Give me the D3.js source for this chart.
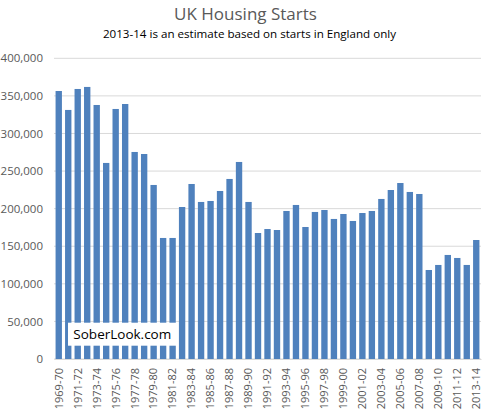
<!DOCTYPE html>
<html><head><meta charset="utf-8">
<script src="https://cdn.jsdelivr.net/npm/d3@7"></script>
<style>body{margin:0;background:#fff}svg{display:block}</style>
</head><body>
<svg id="c" width="490" height="413"></svg>
<script>
const categories = ["1969-70","1970-71","1971-72","1972-73","1973-74","1974-75","1975-76","1976-77","1977-78","1978-79","1979-80","1980-81","1981-82","1982-83","1983-84","1984-85","1985-86","1986-87","1987-88","1988-89","1989-90","1990-91","1991-92","1992-93","1993-94","1994-95","1995-96","1996-97","1997-98","1998-99","1999-00","2000-01","2001-02","2002-03","2003-04","2004-05","2005-06","2006-07","2007-08","2008-09","2009-10","2010-11","2011-12","2012-13","2013-14"];
const starts = [356500,331300,359200,361900,337900,260800,332600,339200,275400,272700,231500,161000,161000,202200,232800,208900,210200,223500,239500,262100,208900,167600,172900,171600,196900,204900,175600,195600,198200,186300,192900,183600,194200,196900,212900,224800,234100,222200,219500,118400,125100,138400,134400,125100,158300];
const yTicks = [0,50000,100000,150000,200000,250000,300000,350000,400000];
const title = "UK Housing Starts";
const subtitle = "2013-14 is an estimate based on starts in England only";
const watermark = "SoberLook.com";

const svg = d3.select("#c");
const font = "'Open Sans', sans-serif";
const m = {l:54, r:481, t:58.3, b:359};
const x = d3.scaleBand().domain(categories).range([m.l, m.r]).paddingInner(0.33).paddingOuter(0.165);
const y = d3.scaleLinear().domain([0,400000]).range([m.b, m.t]);

// gridlines
svg.append("g").selectAll("line").data(yTicks).join("line")
  .attr("x1", m.l).attr("x2", m.r)
  .attr("y1", d=>y(d)).attr("y2", d=>y(d))
  .attr("stroke", "#d9d9d9").attr("stroke-width", 1);

// y axis labels
const fmt = d3.format(",");
const yAxis = d3.axisLeft(y).tickValues(yTicks).tickFormat(d=>fmt(d)).tickSize(0).tickPadding(11);
const ya = svg.append("g").attr("transform", `translate(${m.l},0)`).call(yAxis);
ya.select(".domain").remove();
ya.selectAll("text").attr("fill","#595959").style("font-family",font).style("font-size","11.5px");

// bars
svg.append("g").selectAll("rect").data(starts).join("rect")
  .attr("x", (d,i)=>x(categories[i]))
  .attr("width", x.bandwidth())
  .attr("y", d=>y(d))
  .attr("height", d=>y(0)-y(d))
  .attr("fill", "#4f81bd");

// x axis
const xAxis = d3.axisBottom(x).tickValues(categories.filter((d,i)=>i%2===0)).tickSize(0).tickPadding(0);
const xa = svg.append("g").attr("transform", `translate(0,${m.b})`).call(xAxis);
xa.select(".domain").attr("stroke","#d9d9d9");
xa.selectAll("text").attr("fill","#595959").style("font-family",font).style("font-size","11px")
  .attr("text-anchor","end").attr("transform","rotate(-90)")
  .attr("x",-9).attr("y",0).attr("dy","0.35em");

// watermark
svg.append("rect").attr("x",68).attr("y",322.7).attr("width",108.7).attr("height",23).attr("fill","#fff");
svg.append("text").attr("x",122.3).attr("y",339).attr("text-anchor","middle")
  .style("font-family",font).style("font-size","13.5px").attr("fill","#000").text(watermark);

// titles
svg.append("text").attr("x",245.5).attr("y",19.5).attr("text-anchor","middle")
  .style("font-family",font).style("font-size","17px").attr("fill","#595959").text(title);
svg.append("text").attr("x",249.5).attr("y",37.5).attr("text-anchor","middle")
  .style("font-family",font).style("font-size","11.6px").attr("fill","#000").text(subtitle);
</script>
</body></html>
